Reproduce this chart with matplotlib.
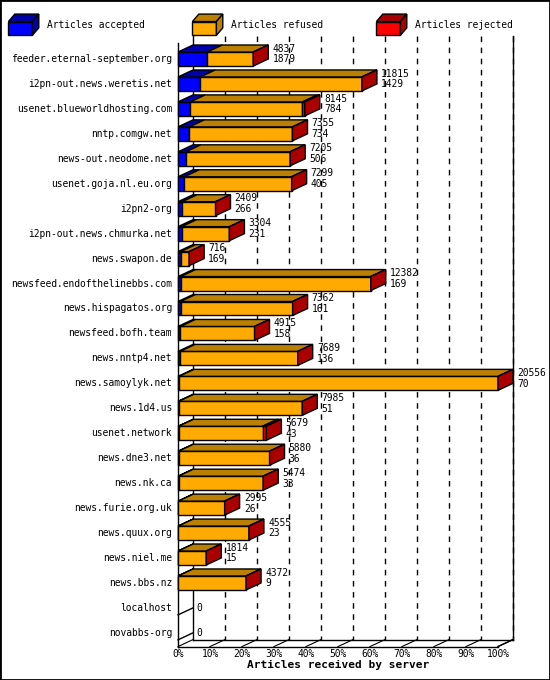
import matplotlib.pyplot as plt
from matplotlib.patches import Polygon

servers = ["feeder.eternal-september.org", "i2pn-out.news.weretis.net", "usenet.blueworldhosting.com",
           "nntp.comgw.net", "news-out.neodome.net", "usenet.goja.nl.eu.org", "i2pn2-org",
           "i2pn-out.news.chmurka.net", "news.swapon.de", "newsfeed.endofthelinebbs.com",
           "news.hispagatos.org", "newsfeed.bofh.team", "news.nntp4.net", "news.samoylyk.net",
           "news.1d4.us", "usenet.network", "news.dne3.net", "news.nk.ca", "news.furie.org.uk",
           "news.quux.org", "news.niel.me", "news.bbs.nz", "localhost", "novabbs-org"]
offered = [4837, 11815, 8145, 7355, 7205, 7299, 2409, 3304, 716, 12382, 7362, 4915, 7689, 20556,
           7985, 5679, 5880, 5474, 2995, 4555, 1814, 4372, 0, 0]
accepted = [1879, 1429, 784, 734, 506, 405, 266, 231, 169, 169, 161, 158, 136, 70,
            51, 43, 36, 33, 26, 23, 15, 9, 0, 0]
rejected = [0, 0, 150, 0, 0, 0, 0, 0, 0, 0, 0, 0, 0, 0, 0, 250, 0, 0, 0, 0, 0, 0, 0, 0]
legend_labels = ["Articles accepted", "Articles refused", "Articles rejected"]
pct_ticks = list(range(0, 101, 10))

FRONT = ["#0000ff", "#ffaa00", "#ff0000"]
TOP = ["#0000aa", "#bb8000", "#aa0000"]
SIDE = "#aa0000"
mono = "DejaVu Sans Mono"
fs = 6.9

fig = plt.figure(figsize=(5.5, 6.8), dpi=100)
ax = fig.add_axes([0, 0, 1, 1])
# px = 178 + 3.2*x ; py = 59 + 24.95*row
ax.set_xlim(-178 / 3.2, (550 - 178) / 3.2)
ax.set_ylim((680 - 59) / 24.95, -59 / 24.95)
ax.axis("off")
fig.patches.append(plt.Rectangle((0, 0), 1, 1, transform=fig.transFigure, fill=False, lw=2, ec="black"))

dx, dy = 15 / 3.2, 7 / 24.95
h = 0.28
vmax = max(offered)

def box(x0, x1, y, front, top, side=None):
    ax.add_patch(Polygon([(x0, y - h), (x1, y - h), (x1, y + h), (x0, y + h)], fc=front, ec="black", lw=1, zorder=3))
    ax.add_patch(Polygon([(x0, y - h), (x0 + dx, y - h - dy), (x1 + dx, y - h - dy), (x1, y - h)],
                         fc=top, ec="black", lw=1, zorder=3))
    if side:
        ax.add_patch(Polygon([(x1, y - h), (x1 + dx, y - h - dy), (x1 + dx, y + h - dy), (x1, y + h)],
                             fc=side, ec="black", lw=1, zorder=3))

# axes frame
ytop, ybot = -0.65, 23.55
ax.plot([0, 0], [ytop, ybot], color="black", lw=1, zorder=2)
ax.plot([dx, dx], [ytop - dy, ybot - dy], color="black", lw=1, zorder=1)
ax.plot([0, 100], [ybot, ybot], color="black", lw=1, zorder=2)
ax.plot([dx, 100 + dx], [ybot - dy, ybot - dy], color="black", lw=1, zorder=2)
ax.plot([100, 100 + dx], [ybot, ybot - dy], color="black", lw=1, zorder=2)
ax.plot([100 + dx, 100 + dx], [ybot - dy, ytop - dy], color="black", lw=1, zorder=1)
for p in pct_ticks:
    if 0 < p:
        ax.plot([p + dx, p + dx], [ytop - dy, ybot - dy], color="black", lw=1, ls=(0, (4, 4)), zorder=1)
    ax.plot([p, p + dx], [ybot, ybot - dy], color="black", lw=0.8, zorder=2)
    ax.text(p, ybot + 0.1, f"{p}%", family=mono, fontsize=fs, ha="center", va="top")
ax.text(50, ybot + 0.55, "Articles received by server", family=mono, fontsize=8, fontweight="bold",
        ha="center", va="top")

for i, name in enumerate(servers):
    ax.text(-1.9, i, name, family=mono, fontsize=fs, ha="right", va="center")
    if offered[i] == 0:
        ax.plot([0, dx], [i + h, i + h - dy], color="black", lw=1)
        ax.text(dx + 1, i, "0", family=mono, fontsize=fs, ha="left", va="center")
        continue
    a = accepted[i] / vmax * 100
    r = rejected[i] / vmax * 100
    t = offered[i] / vmax * 100
    edges = [0, a, t - r, t]
    for k in range(3):
        if edges[k + 1] > edges[k]:
            box(edges[k], edges[k + 1], i, FRONT[k], TOP[k])
    box(t, t, i, FRONT[1], TOP[1], SIDE)
    ax.text(t + dx + 1.3, i - 0.2, f"{offered[i]}\n{accepted[i]}", family=mono, fontsize=fs,
            ha="left", va="center", linespacing=1.1)

# legend
for k, lab in enumerate(legend_labels):
    x0 = -53 + k * 57.5
    ax.add_patch(Polygon([(x0, -1.5), (x0 + 7.5, -1.5), (x0 + 7.5, -0.95), (x0, -0.95)], fc=FRONT[k], ec="black", lw=1))
    ax.add_patch(Polygon([(x0, -1.5), (x0 + 2, -1.8), (x0 + 9.5, -1.8), (x0 + 7.5, -1.5)], fc=TOP[k], ec="black", lw=1))
    ax.add_patch(Polygon([(x0 + 7.5, -1.5), (x0 + 9.5, -1.8), (x0 + 9.5, -1.25), (x0 + 7.5, -0.95)], fc=TOP[k], ec="black", lw=1))
    ax.text(x0 + 12, -1.35, lab, family=mono, fontsize=fs, ha="left", va="center")

fig.savefig("out.png", dpi=100)
